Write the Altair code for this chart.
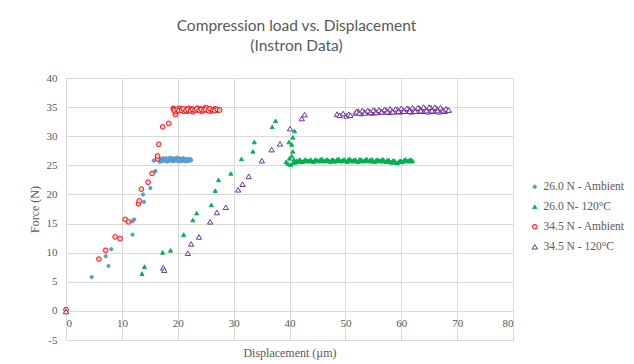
import altair as alt
import pandas as pd

series_names = ["26.0 N - Ambient", "26.0 N-  120°C", "34.5 N - Ambient", "34.5 N - 120°C"]
stroke_colors = ["#5B9BD5", "#00B050", "#FF0000", "#7030A0"]
fill_colors = ["#5B9BD5", "#00B050", "#FFC8C8", "#FFFFFF"]
shapes = ["circle", "triangle-up", "circle", "triangle-up"]
sizes = [12, 28, 11, 26]
stroke_widths = [0.8, 1.0, 1.8, 1.4]

x_ticks = [0, 10, 20, 30, 40, 50, 60, 70, 80]
y_ticks = [-5, 0, 5, 10, 15, 20, 25, 30, 35, 40]

# 26.0 N - Ambient
blue_points = [
    (0, 0), (4.6, 5.8), (7.1, 9.4), (7.6, 7.7), (8.1, 10.6), (11.9, 13.1), (11.9, 15.4),
    (12.2, 15.7), (13.8, 20.0), (13.95, 18.7), (15.1, 21.1), (16.0, 24.0), (15.7, 25.8),
    (16.6, 25.9), (16.9, 26.0), (17.2, 25.8), (17.5, 26.0), (17.8, 25.9), (18.1, 26.1),
    (18.4, 25.8), (18.7, 26.0), (19.0, 25.9), (19.3, 26.1), (19.6, 25.9), (19.9, 26.2),
    (20.2, 25.9), (20.5, 26.0), (20.8, 25.8), (21.1, 26.0), (21.4, 25.9), (21.7, 26.0),
    (22.0, 25.8), (22.3, 25.9), (16.8, 25.6), (17.4, 26.2), (18.0, 25.7), (18.6, 26.3),
    (19.2, 25.7), (19.8, 26.3), (20.4, 25.7), (21.0, 26.2), (21.6, 25.7), (22.2, 26.1),
    (16.7, 26.1), (17.0, 25.7), (17.3, 26.1), (17.6, 25.8), (17.9, 26.2), (18.2, 25.7),
    (18.5, 26.1), (18.8, 25.8), (19.1, 26.2), (19.4, 25.8), (19.7, 26.1), (20.0, 25.7),
    (20.3, 26.2), (20.6, 25.8), (20.9, 26.1), (21.2, 25.7), (21.5, 26.1), (21.8, 25.8),
    (22.1, 26.0), (22.4, 25.9),
]

# 26.0 N- 120°C
green_points = [
    (0, 0), (13.6, 6.4), (14.05, 7.6), (17.3, 10.05), (18.7, 10.4), (21.05, 13.1),
    (22.7, 15.6), (23.4, 16.8), (26.0, 18.2), (26.7, 20.65), (27.3, 22.5), (29.5, 23.6),
    (31.4, 26.1), (33.45, 27.4), (33.7, 29.0), (36.9, 31.6), (37.5, 32.65), (39.9, 29.0),
    (40.6, 29.8), (40.9, 30.9), (40.4, 28.6), (40.6, 27.4),
    (39.4, 25.6), (39.7, 25.3), (40.0, 26.2), (40.2, 25.1), (40.4, 26.6), (40.6, 25.4),
    (40.8, 26.0), (41.0, 25.5), (41.3, 25.8), (41.6, 25.6), (42.0, 25.8), (42.5, 25.7),
    (43.0, 25.9), (43.5, 25.8), (44.0, 25.7), (44.5, 25.9), (45.0, 25.8), (45.5, 26.0),
    (46.0, 25.8), (46.5, 25.9), (47.0, 25.8), (47.5, 25.9), (48.0, 25.7), (48.5, 26.0),
    (49.0, 25.8), (49.5, 25.9), (50.0, 25.8), (50.5, 26.0), (51.0, 25.8), (51.5, 25.9),
    (52.0, 25.7), (52.5, 26.0), (53.0, 25.8), (53.5, 25.9), (54.0, 25.8), (54.5, 26.0),
    (55.0, 25.7), (55.5, 25.9), (56.0, 25.8), (56.5, 26.0), (57.0, 25.7), (57.5, 25.9),
    (58.0, 25.6), (58.5, 25.8), (59.0, 25.5), (59.5, 25.6), (60.0, 25.7), (60.5, 25.9),
    (61.0, 25.8), (61.5, 25.9), (61.9, 25.7),
    (41.8, 26.0), (42.3, 25.6), (42.8, 26.0), (43.3, 25.7), (43.8, 26.0), (44.3, 25.6),
    (44.8, 26.0), (45.3, 25.7), (45.8, 26.1), (46.3, 25.7), (46.8, 26.0), (47.3, 25.6),
    (47.8, 26.0), (48.3, 25.7), (48.8, 26.1), (49.3, 25.7), (49.8, 26.0), (50.3, 25.6),
    (50.8, 26.1), (51.3, 25.7), (51.8, 26.0), (52.3, 25.6), (52.8, 26.0), (53.3, 25.7),
    (53.8, 26.1), (54.3, 25.7), (54.8, 26.0), (55.3, 25.6), (55.8, 26.0), (56.3, 25.7),
    (56.8, 26.0), (57.3, 25.6), (57.8, 25.9), (58.3, 25.5), (58.8, 25.8), (59.3, 25.4),
    (59.8, 25.8), (60.3, 25.6), (60.8, 26.0), (61.3, 25.7), (61.7, 26.0), (62.0, 25.8),
]

# 34.5 N - Ambient
red_points = [
    (0, 0.2), (5.9, 8.9), (7.1, 10.4), (8.8, 12.7), (9.7, 12.4), (10.6, 15.7), (11.2, 15.3),
    (13.0, 18.4), (13.1, 18.9), (13.5, 20.9), (14.7, 22.1), (15.4, 23.6), (16.4, 26.1),
    (16.4, 26.6), (16.6, 28.6), (17.3, 31.6), (18.4, 32.2), (19.6, 33.7), (19.2, 34.8),
    (19.3, 34.6), (19.7, 34.3), (20.1, 34.5), (20.5, 34.7), (20.9, 34.4), (21.3, 34.6),
    (21.7, 34.3), (22.1, 34.5), (22.5, 34.7), (22.9, 34.4), (23.3, 34.6), (23.7, 34.5),
    (24.1, 34.7), (24.5, 34.4), (24.9, 34.8), (25.3, 34.5), (25.7, 34.6), (26.1, 34.4),
    (26.5, 34.6), (26.9, 34.5), (27.3, 34.5), (19.5, 34.2), (20.3, 34.8), (21.1, 34.3),
    (21.9, 34.8), (22.7, 34.2), (23.5, 34.8), (24.3, 34.3), (25.1, 34.9), (25.9, 34.3),
    (26.7, 34.7),
    (19.4, 34.5), (19.9, 34.6), (20.2, 34.4), (20.7, 34.5), (21.0, 34.7), (21.5, 34.4),
    (21.8, 34.6), (22.3, 34.4), (22.6, 34.6), (23.1, 34.5), (23.4, 34.7), (23.9, 34.4),
    (24.2, 34.6), (24.7, 34.5), (25.0, 34.6), (25.5, 34.4), (25.8, 34.7), (26.3, 34.5),
    (26.6, 34.4), (27.1, 34.6), (27.5, 34.5),
]

# 34.5 N - 120°C
purple_points = [
    (0, -0.1), (17.4, 7.4), (17.6, 7.0), (21.8, 9.9), (22.4, 11.5), (23.8, 12.7), (25.8, 15.3),
    (27.0, 16.9), (28.6, 17.8), (30.8, 20.8), (31.6, 21.75), (32.7, 23.1), (35.05, 25.8),
    (36.8, 27.7), (38.3, 28.7), (40.1, 31.3), (42.2, 33.05), (42.7, 33.7), (48.5, 33.8),
    (49.0, 33.6), (49.6, 33.9), (50.2, 33.5), (50.6, 33.8), (50.9, 33.6), (52.2, 34.2),
    (51.8, 34.0), (52.3, 34.3), (52.8, 33.9), (53.3, 34.2), (53.8, 34.1), (54.3, 34.3),
    (54.8, 34.0), (55.3, 34.4), (55.8, 34.1), (56.3, 34.3), (56.8, 34.2), (57.3, 34.5),
    (57.8, 34.1), (58.3, 34.4), (58.8, 34.2), (59.3, 34.6), (59.8, 34.2), (60.3, 34.5),
    (60.8, 34.3), (61.3, 34.7), (61.8, 34.2), (62.3, 34.6), (62.8, 34.3), (63.3, 34.8),
    (63.8, 34.3), (64.3, 34.7), (64.8, 34.2), (65.3, 34.9), (65.8, 34.3), (66.3, 34.8),
    (66.8, 34.2), (67.3, 34.6), (67.8, 34.3), (68.3, 34.5),
    (52.0, 34.2), (52.5, 34.0), (53.0, 34.4), (53.5, 34.0), (54.0, 34.4), (54.5, 34.1),
    (55.0, 34.5), (55.5, 34.1), (56.0, 34.5), (56.5, 34.2), (57.0, 34.6), (57.5, 34.2),
    (58.0, 34.7), (58.5, 34.2), (59.0, 34.7), (59.5, 34.3), (60.0, 34.8), (60.5, 34.3),
    (61.0, 34.8), (61.5, 34.3), (62.0, 34.9), (62.5, 34.3), (63.0, 34.9), (63.5, 34.4),
    (64.0, 35.0), (64.5, 34.4), (65.0, 35.0), (65.5, 34.4), (66.0, 35.0), (66.5, 34.4),
    (67.0, 34.9), (67.5, 34.4), (68.0, 34.7), (68.5, 34.5),
]

rows = []
idx = 0
for name, pts in zip(series_names, [blue_points, green_points, red_points, purple_points]):
    for xv, yv in pts:
        rows.append({"series": name, "x": xv, "y": yv, "idx": idx})
        idx += 1
df = pd.DataFrame(rows)

serif = "Liberation Serif"
grey = "#595959"

legend = alt.Legend(
    title=None, orient="none", legendX=463, legendY=103,
    labelFont=serif, labelFontSize=11.5, labelColor=grey,
    labelOffset=3, rowPadding=7,
)

chart = alt.Chart(df).mark_point(filled=True, opacity=1).encode(
    x=alt.X("x:Q", scale=alt.Scale(domain=[0, 80], nice=False, zero=False),
            axis=alt.Axis(values=x_ticks, title="Displacement (µm)", offset=-29,
                          grid=True, gridColor="#d9d9d9", domain=False, ticks=False,
                          labelFont=serif, labelFontSize=11, labelColor=grey, labelPadding=6,
                          titleFont=serif, titleFontSize=12, titleFontWeight="normal",
                          titleColor=grey, titleY=41, titleBaseline="middle")),
    y=alt.Y("y:Q", scale=alt.Scale(domain=[-5, 40], nice=False, zero=False),
            axis=alt.Axis(values=y_ticks, title="Force (N)", labelExpr="'' + datum.value",
                          grid=True, gridColor="#d9d9d9", domain=False, ticks=False,
                          labelFont=serif, labelFontSize=11, labelColor=grey, labelPadding=9,
                          titleFont=serif, titleFontSize=12, titleFontWeight="normal",
                          titleColor=grey, titlePadding=5)),
    shape=alt.Shape("series:N", scale=alt.Scale(domain=series_names, range=shapes), legend=legend),
    fill=alt.Fill("series:N", scale=alt.Scale(domain=series_names, range=fill_colors), legend=legend),
    stroke=alt.Stroke("series:N", scale=alt.Scale(domain=series_names, range=stroke_colors), legend=legend),
    size=alt.Size("series:N", scale=alt.Scale(domain=series_names, range=sizes), legend=legend),
    strokeWidth=alt.StrokeWidth("series:N", scale=alt.Scale(domain=series_names, range=stroke_widths), legend=legend),
    order=alt.Order("idx:Q"),
).properties(
    width=447, height=262,
    title=alt.TitleParams(
        ["Compression load vs. Displacement", "(Instron Data)"],
        font="Lato", fontSize=15.5, fontWeight="normal", color=grey,
        anchor="middle", dx=7, offset=18, lineHeight=20,
    ),
    autosize=alt.AutoSizeParams(type="none"),
    padding={"left": 66, "top": 78, "right": 121, "bottom": 24},
).configure_view(strokeWidth=0)

chart.save("out.html", embed_options={"renderer": "svg", "actions": False})
